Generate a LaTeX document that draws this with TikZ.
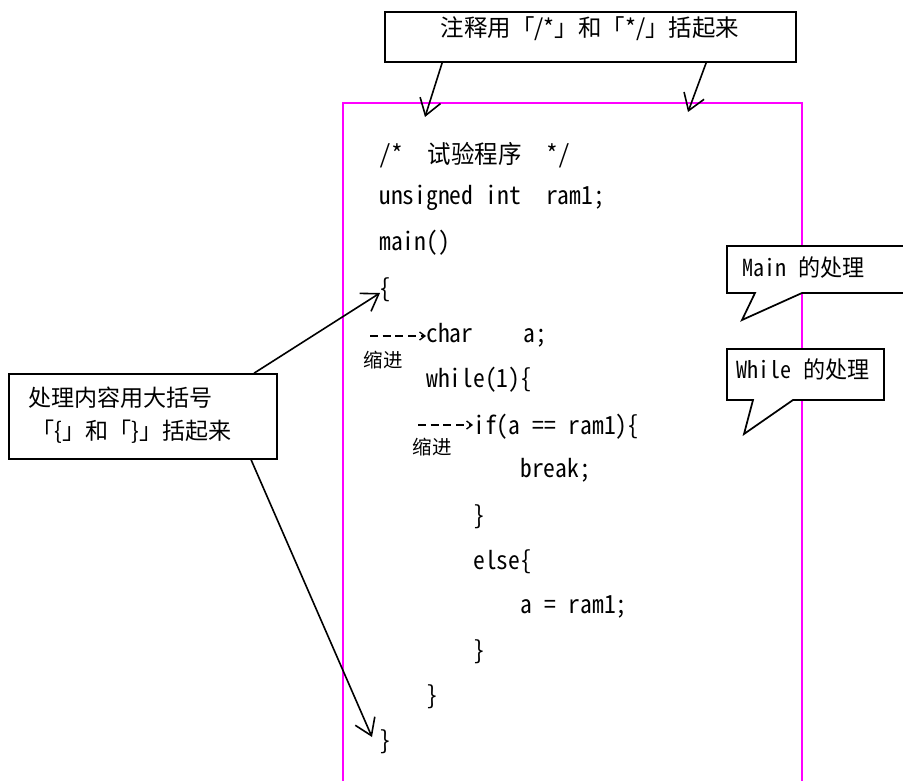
\documentclass[tikz,border=0pt]{standalone}
\usepackage{fontspec}
\setmainfont{Noto Sans CJK SC}
\newfontfamily\codefont{Noto Sans CJK SC}[RawFeature=+hwid, FakeStretch=0.94]
\usetikzlibrary{arrows.meta,calc}
\newcommand\hs{\hspace*{0.5em}}
\definecolor{frame}{RGB}{255,0,255}
\tikzset{
  boxed/.style={draw=black, line width=1.3pt, fill=white, inner sep=0pt},
  codeline/.style={anchor=west, inner sep=0pt, font=\codefont\fontsize{18.75pt}{21pt}\selectfont},
  lbl/.style={anchor=west, inner sep=0pt, font=\fontsize{17.3pt}{20pt}\selectfont},
  lblc/.style={inner sep=0pt, font=\fontsize{17.6pt}{20pt}\selectfont},
  tag/.style={anchor=west, inner sep=0pt, font=\codefont\fontsize{17.6pt}{20pt}\selectfont},
  smalllbl/.style={inner sep=0pt, font=\fontsize{14.6pt}{17pt}\selectfont},
  bigarrow/.style={line width=1.2pt, -{Straight Barb[length=12pt,width=16pt,line width=1.2pt]}},
  indentarrow/.style={line width=1pt, dash pattern=on 6pt off 3.5pt, -{Straight Barb[length=4pt,width=6pt,line width=1pt,sep=0pt]}},
  bubble/.style={draw=black, line width=1.3pt, fill=white, line join=miter},
}
\begin{document}
\begin{tikzpicture}[x=0.75pt, y=-0.75pt]
\useasboundingbox (0,0) rectangle (903,781);
\fill[white] (0,0) rectangle (903,781);

% magenta page frame, open at the bottom
\draw[frame, line width=1.5pt] (343,782) -- (343,103) -- (802,103) -- (802,782);

% code listing
\node[codeline] (c1) at (379,155) {/*\hs\hs 试验程序\hs\hs */};
\node[codeline] (c2) at (379,198) {unsigned\hs int\hs\hs ram1;};
\node[codeline] (c3) at (379,243) {main()};
\node[codeline] (ob) at (379,290) {\{};
\node[codeline] (ch) at (426,335) {char\hs\hs\hs\hs a;};
\node[codeline] (wh) at (426,380) {while(1)\{};
\node[codeline] (ifl) at (473,427) {if(a\hs==\hs ram1)\{};
\node[codeline] (br) at (520,470) {break;};
\node[codeline] (b1) at (473,517) {\}};
\node[codeline] (el) at (473,562) {else\{};
\node[codeline] (asg) at (520,607) {a\hs=\hs ram1;};
\node[codeline] (b2) at (473,652) {\}};
\node[codeline] (b3) at (426,697) {\}};
\node[codeline] (cb) at (379,742) {\}};

% indentation markers
\coordinate (d1) at (370,336);
\coordinate (d2) at (418,425);
\draw[indentarrow] (d1) -- (ch.west |- d1);
\draw[indentarrow] (d2) -- (ifl.west |- d2);
\node[smalllbl] (k1) at (383,360) {缩进};
\node[smalllbl] (k2) at (432,447) {缩进};

% comment callout
\node[boxed, minimum width=308.25pt, minimum height=37.5pt] (top) at (590.5,37) {};
\node[lblc] (toptext) at (590,29) {注释用「/*」和「*/」括起来};
\coordinate (t1) at (425,117);
\coordinate (t2) at (688,112);
\draw[bigarrow] ($(top.south west)+(58,0)$) -- (t1);
\draw[bigarrow] ($(top.south west)+(322,0)$) -- (t2);

% braces callout
\node[boxed, minimum width=201pt, minimum height=63.75pt] (lbox) at (143,416.5) {};
\node[lbl] (lt1) at (28,398) {处理内容用大括号};
\node[lbl] (lt2) at (31,432) {「\{」和「\}」括起来};
\draw[bigarrow] ($(lbox.north west)+(246,0)$) -- ($(ob.west)+(1,3)$);
\draw[bigarrow] ($(lbox.south west)+(243,0)$) -- ($(cb.west)+(-7,-5)$);

% speech bubbles
\draw[bubble] (727,246) -- (905,246) -- (905,293) -- (802,293) -- (742,320)
  -- (755,293) -- (727,293) -- cycle;
\node[tag] (mt) at (742,268) {Main\hs 的处理};
\draw[bubble] (727,349) -- (884,349) -- (884,400) -- (793,400) -- (744,434)
  -- (753,400) -- (727,400) -- cycle;
\node[tag] (wt) at (736,370) {While\hs 的处理};
\end{tikzpicture}
\end{document}
